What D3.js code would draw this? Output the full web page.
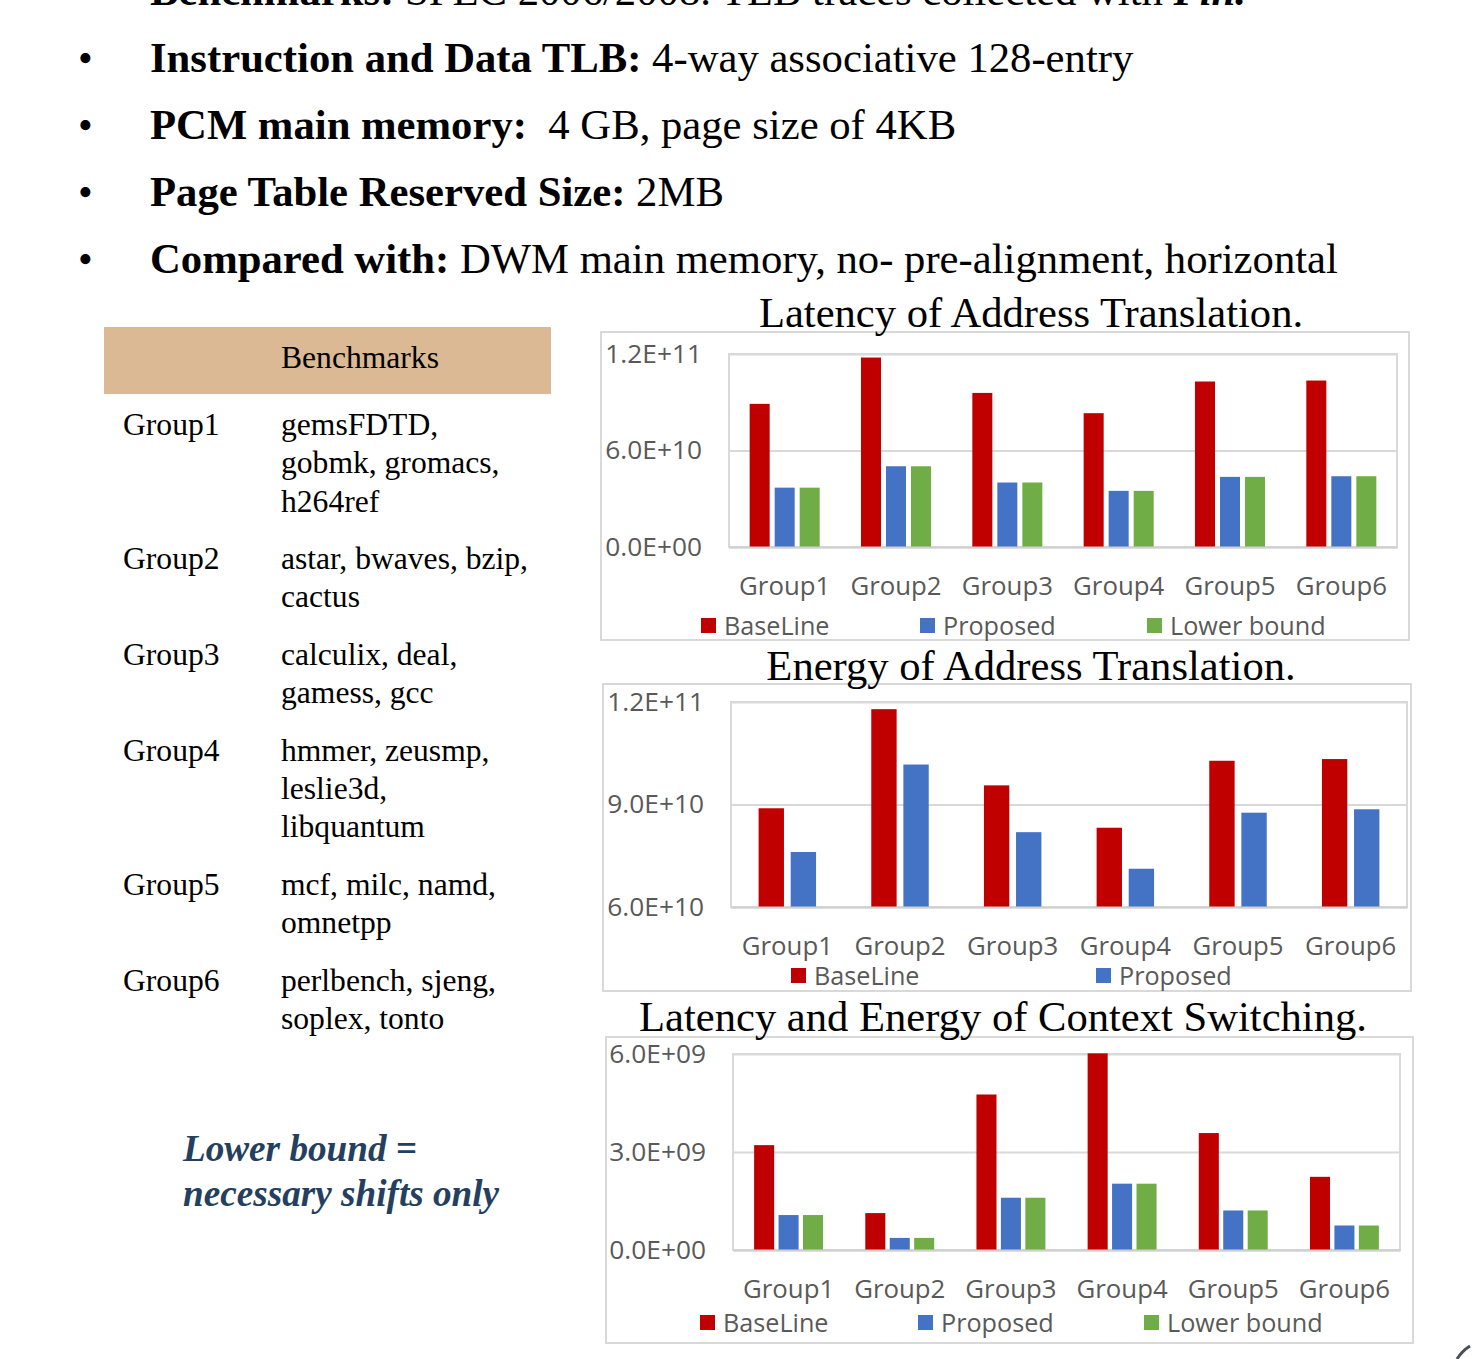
<!DOCTYPE html>
<html>
<head>
<meta charset="utf-8">
<script src="https://cdn.jsdelivr.net/npm/d3@7"></script>
<style>
  html, body { margin: 0; padding: 0; background: #fff; }
  svg { display: block; }
  .serif { font-family: "Liberation Serif", "Times New Roman", serif; fill: #000; }
  .chart-text { font-family: "Open Sans", sans-serif; fill: #595959; }
</style>
</head>
<body>
<svg id="slide" width="1476" height="1359"></svg>
<script>
// ---- data ----
const groups = ["Group1", "Group2", "Group3", "Group4", "Group5", "Group6"];

const latencyBaseline   = [8.90e10, 11.78e10, 9.58e10, 8.32e10, 10.29e10, 10.35e10];
const latencyProposed   = [3.69e10, 5.02e10, 4.01e10, 3.49e10, 4.36e10, 4.40e10];
const latencyLowerBound = [3.69e10, 5.02e10, 4.01e10, 3.49e10, 4.36e10, 4.40e10];
const latencyTicks = [0, 6e10, 1.2e11];

const energyBaseline = [8.89e10, 11.79e10, 9.56e10, 8.32e10, 10.28e10, 10.33e10];
const energyProposed = [7.61e10, 10.17e10, 8.19e10, 7.12e10, 8.76e10, 8.86e10];
const energyTicks = [6e10, 9e10, 1.2e11];

const contextBaseline   = [3.21e9, 1.13e9, 4.76e9, 6.02e9, 3.58e9, 2.24e9];
const contextProposed   = [1.07e9, 0.37e9, 1.60e9, 2.03e9, 1.21e9, 0.75e9];
const contextLowerBound = [1.07e9, 0.37e9, 1.60e9, 2.03e9, 1.21e9, 0.75e9];
const contextTicks = [0, 3e9, 6e9];

const seriesNames = ["BaseLine", "Proposed", "Lower bound"];
const seriesColors = ["#C00000", "#4472C4", "#70AD47"];

const benchmarkRows = [
  ["Group1", ["gemsFDTD,", "gobmk, gromacs,", "h264ref"]],
  ["Group2", ["astar, bwaves, bzip,", "cactus"]],
  ["Group3", ["calculix, deal,", "gamess, gcc"]],
  ["Group4", ["hmmer, zeusmp,", "leslie3d,", "libquantum"]],
  ["Group5", ["mcf, milc, namd,", "omnetpp"]],
  ["Group6", ["perlbench, sjeng,", "soplex, tonto"]]
];

const bullets = [
  {bold: "Instruction and Data TLB:", rest: " 4-way associative 128-entry"},
  {bold: "PCM main memory:", rest: "\u00a0 4 GB, page size of 4KB"},
  {bold: "Page Table Reserved Size:", rest: " 2MB"},
  {bold: "Compared with:", rest: " DWM main memory, no- pre-alignment, horizontal"}
];

// ---- helpers ----
const svg = d3.select("#slide");

function sciLabel(v) {
  const [m, e] = v.toExponential(1).toUpperCase().split("E");
  const sign = e[0];
  const digits = e.slice(1).padStart(2, "0");
  return m + "E" + sign + digits;
}

// ---- header text lines ----
const headLine = svg.append("text").attr("class", "serif")
  .attr("x", 150).attr("y", 5).style("font-size", "42.7px");
headLine.append("tspan").style("font-weight", "bold").text("Benchmarks:");
headLine.append("tspan").text(" SPEC 2006/2008. TLB traces collected with ");
headLine.append("tspan").style("font-weight", "bold").style("font-style", "italic").text("Pin.");

bullets.forEach((b, i) => {
  const y = 72 + i * 67;
  svg.append("text").attr("class", "serif").attr("x", 78).attr("y", y)
    .style("font-size", "42px").text("\u2022");
  const t = svg.append("text").attr("class", "serif").attr("x", 150).attr("y", y)
    .style("font-size", "42.7px").attr("xml:space", "preserve");
  t.append("tspan").style("font-weight", "bold").text(b.bold);
  t.append("tspan").text(b.rest);
});

// ---- benchmark table ----
svg.append("rect").attr("x", 104).attr("y", 327).attr("width", 447).attr("height", 67)
  .attr("fill", "#DBB994");
svg.append("text").attr("class", "serif").attr("x", 281).attr("y", 368)
  .style("font-size", "31.6px").text("Benchmarks");

let rowY = 435;
const lineH = 38.3;
benchmarkRows.forEach(([g, lines]) => {
  svg.append("text").attr("class", "serif").attr("x", 123).attr("y", rowY)
    .style("font-size", "31.6px").text(g);
  lines.forEach((l, j) => {
    svg.append("text").attr("class", "serif").attr("x", 281).attr("y", rowY + j * lineH)
      .style("font-size", "31.6px").text(l);
  });
  rowY += lines.length * lineH + 19.2;
});

const note = svg.append("g").style("font-family", "'Liberation Serif', serif")
  .style("font-weight", "bold").style("font-style", "italic").style("font-size", "37.2px")
  .attr("fill", "#243F60");
note.append("text").attr("x", 183).attr("y", 1161).text("Lower bound =");
note.append("text").attr("x", 183).attr("y", 1206).text("necessary shifts only");

// ---- bar chart ----
function barChart(cfg) {
  const g = svg.append("g");
  // outer frame
  g.append("rect").attr("x", cfg.box[0]).attr("y", cfg.box[1])
    .attr("width", cfg.box[2]).attr("height", cfg.box[3])
    .attr("fill", "#fff").attr("stroke", "#D9D9D9").attr("stroke-width", 2);

  // title
  svg.append("text").attr("class", "serif").attr("x", cfg.titleX).attr("y", cfg.titleY)
    .attr("text-anchor", "middle").style("font-size", "42.6px").text(cfg.title);

  const [x0, y0, x1, y1] = cfg.plot;
  const y = d3.scaleLinear().domain(d3.extent(cfg.ticks)).range([y1, y0]);
  const x = d3.scaleBand().domain(groups).range([x0, x1])
    .paddingInner(cfg.pad).paddingOuter(cfg.pad / 2);
  const xs = d3.scaleBand().domain(d3.range(cfg.series.length))
    .range([0, x.bandwidth()]).paddingInner(cfg.innerPad);

  // plot frame
  g.append("rect").attr("x", x0).attr("y", y0).attr("width", x1 - x0).attr("height", y1 - y0)
    .attr("fill", "none").attr("stroke", "#D9D9D9").attr("stroke-width", 2);

  // gridlines and y labels
  const yAxis = d3.axisLeft(y).tickValues(cfg.ticks).tickFormat(sciLabel)
    .tickSize(-(x1 - x0)).tickPadding(27);
  const ya = g.append("g").attr("transform", `translate(${x0},0)`).call(yAxis);
  ya.select(".domain").remove();
  ya.selectAll(".tick line").attr("stroke", "#D9D9D9").attr("stroke-width", 2);
  ya.selectAll(".tick text").attr("class", "chart-text").attr("fill", "#595959")
    .style("font-size", "26.3px");

  // bars
  cfg.series.forEach((vals, si) => {
    g.append("g").selectAll("rect").data(vals).join("rect")
      .attr("x", (d, i) => x(groups[i]) + xs(si))
      .attr("width", xs.bandwidth())
      .attr("y", d => y(d))
      .attr("height", d => y(d3.min(cfg.ticks)) - y(d))
      .attr("fill", seriesColors[si]);
  });

  // x axis
  const xAxis = d3.axisBottom(x).tickSize(0).tickPadding(cfg.xLabelPad);
  const xa = g.append("g").attr("transform", `translate(0,${y1})`).call(xAxis);
  xa.select(".domain").attr("stroke", "#D0D0D0").attr("stroke-width", 2);
  xa.selectAll(".tick text").attr("class", "chart-text").attr("fill", "#595959")
    .style("font-size", "25.8px");

  // legend
  cfg.legend.forEach((lx, si) => {
    g.append("rect").attr("x", lx).attr("y", cfg.legendY - 8).attr("width", 15).attr("height", 15)
      .attr("fill", seriesColors[si]);
    g.append("text").attr("class", "chart-text").attr("x", lx + 23).attr("y", cfg.legendY + 9)
      .style("font-size", "25.2px").text(seriesNames[si]);
  });
}

barChart({
  title: "Latency of Address Translation.", titleX: 1031, titleY: 327,
  box: [601, 332, 808, 308], plot: [729, 354, 1397, 547],
  ticks: latencyTicks, series: [latencyBaseline, latencyProposed, latencyLowerBound],
  pad: 0.371, innerPad: 0.2, xLabelPad: 30,
  legend: [701, 920, 1147], legendY: 626
});

barChart({
  title: "Energy of Address Translation.", titleX: 1031, titleY: 680,
  box: [603, 684, 808, 307], plot: [731, 702, 1407, 907],
  ticks: energyTicks, series: [energyBaseline, energyProposed],
  pad: 0.49, innerPad: 0.21, xLabelPad: 30,
  legend: [791, 1096], legendY: 976
});

barChart({
  title: "Latency and Energy of Context Switching.", titleX: 1003, titleY: 1031,
  box: [606, 1037, 807, 306], plot: [733, 1054, 1400, 1250],
  ticks: contextTicks, series: [contextBaseline, contextProposed, contextLowerBound],
  pad: 0.38, innerPad: 0.18, xLabelPad: 30,
  legend: [700, 918, 1144], legendY: 1323
});

// page curl mark in the lower-right corner
svg.append("path").attr("d", "M1457,1359 Q1462,1351 1470,1346")
  .attr("fill", "none").attr("stroke", "#4a5058").attr("stroke-width", 3);
</script>
</body>
</html>
